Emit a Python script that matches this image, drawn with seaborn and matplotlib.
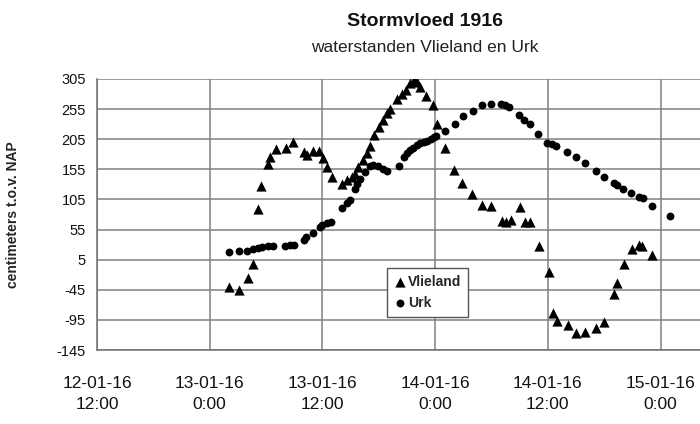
import numpy as np
import pandas as pd
import matplotlib
matplotlib.use("Agg")
import matplotlib.pyplot as plt
import seaborn as sns

# uren na 12-01-1916 12:00 en waterstand in cm t.o.v. NAP
vlieland_uur = [14.1, 15.1, 16.1, 16.6, 17.1, 17.5, 18.2, 18.4, 19.1, 20.1, 20.9,
                22.0, 22.4, 23.0, 23.6, 24.1, 24.5, 25.0, 26.1, 26.6, 27.1, 27.5,
                27.8, 28.3, 28.7, 29.1, 29.5, 30.0, 30.5, 30.9, 31.2, 31.9, 32.5,
                32.9, 33.3, 33.7, 34.1, 34.4, 35.0, 35.8, 36.2, 37.0, 38.0, 38.9,
                39.9, 41.0, 42.0, 43.1, 43.5, 44.1, 45.0, 45.6, 46.1, 47.1, 48.1,
                48.6, 49.0, 50.1, 51.0, 52.0, 53.1, 54.0, 55.0, 55.4, 56.1, 57.0,
                57.7, 58.0, 59.1]
vlieland_cm = [-40, -45, -26, -3, 89, 127, 164, 175, 189, 191, 200,
               184, 179, 185, 186, 174, 159, 143, 131, 138, 142, 148,
               159, 170, 182, 194, 212, 226, 237, 248, 255, 272, 280,
               287, 298, 303, 300, 292, 276, 261, 231, 190, 154, 132,
               114, 96, 94, 69, 68, 71, 92, 68, 68, 28, -15,
               -83, -96, -103, -117, -115, -108, -98, -52, -34, -3, 22,
               30, 28, 13]

urk_uur = [14.0, 15.1, 16.0, 16.6, 17.1, 17.6, 18.2, 18.7, 20.0, 20.5, 21.0,
           22.0, 22.3, 23.0, 23.7, 24.0, 24.5, 24.9, 26.1, 26.6, 26.9, 27.5,
           27.7, 28.0, 28.5, 29.1, 29.4, 29.9, 30.4, 30.9, 32.1, 32.7, 33.0,
           33.3, 33.6, 34.1, 34.4, 34.8, 35.1, 35.6, 35.9, 36.1, 37.0, 38.1,
           39.0, 40.0, 41.0, 41.9, 43.0, 43.4, 43.9, 44.9, 45.5, 46.1, 47.0,
           47.9, 48.4, 48.9, 50.0, 51.0, 52.0, 53.1, 54.0, 55.0, 55.4, 56.0,
           56.9, 57.7, 58.1, 59.1, 61.0]
urk_cm = [17, 19, 20, 23, 25, 26, 28, 28, 27, 29, 30,
          38, 42, 50, 60, 63, 66, 68, 91, 99, 104, 123,
          130, 139, 151, 160, 163, 161, 156, 153, 161, 175, 182,
          187, 191, 195, 198, 201, 202, 206, 209, 211, 219, 231,
          243, 252, 262, 264, 263, 261, 259, 246, 237, 231, 213,
          199, 197, 194, 183, 175, 165, 153, 143, 133, 129, 123,
          116, 109, 107, 94, 78]

x_ticks = [0, 12, 24, 36, 48, 60]
x_labels = ["12-01-16\n12:00", "13-01-16\n0:00", "13-01-16\n12:00",
            "14-01-16\n0:00", "14-01-16\n12:00", "15-01-16\n0:00"]
y_ticks = [305, 255, 205, 155, 105, 55, 5, -45, -95, -145]

df_v = pd.DataFrame({'uur': vlieland_uur, 'cm': vlieland_cm})
df_u = pd.DataFrame({'uur': urk_uur, 'cm': urk_cm})

sns.set_style("white")
plt.rcParams['font.family'] = ['Liberation Sans', 'DejaVu Sans']

fig = plt.figure(figsize=(7, 4.24), dpi=100)
ax = fig.add_axes([0.1386, 0.1745, 0.8614, 0.6392])

sns.scatterplot(data=df_v, x='uur', y='cm', marker='^', s=54, color='black',
                edgecolor='black', linewidth=0, label='Vlieland', ax=ax, zorder=3)
sns.scatterplot(data=df_u, x='uur', y='cm', marker='o', s=32, color='black',
                edgecolor='black', linewidth=0, label='Urk', ax=ax, zorder=3)

ax.set_xlim(0, 64.2)
ax.set_ylim(-145, 305)
ax.set_xticks(x_ticks)
ax.set_xticklabels(x_labels, fontsize=12.5, linespacing=1.45, color='#111111')
ax.set_yticks(y_ticks)
ax.set_yticklabels([str(t) for t in y_ticks], fontsize=10.5, color='#111111')
ax.grid(True, color='#808080', linewidth=1.1)
ax.set_axisbelow(True)
for side in ['top', 'right']:
    ax.spines[side].set_visible(False)
for side in ['left', 'bottom']:
    ax.spines[side].set_color('#707070')
    ax.spines[side].set_linewidth(1.1)
ax.tick_params(axis='x', direction='out', length=5, width=1, color='#707070', pad=14)
ax.tick_params(axis='y', direction='out', length=5, width=1, color='#707070', pad=3)

ax.set_xlabel('')
ax.set_ylabel('centimeters t.o.v. NAP', fontsize=10, fontweight='bold')
ax.yaxis.set_label_coords(-0.128, 0.5)

fig.text(0.607, 0.950, 'Stormvloed 1916', ha='center', va='center',
         fontsize=14, fontweight='bold', color='#111111')
fig.text(0.607, 0.889, 'waterstanden Vlieland en Urk', ha='center', va='center',
         fontsize=12.5, color='#222222')

leg = ax.legend(loc='upper left', bbox_to_anchor=(0.481, 0.3026), frameon=True,
                fancybox=False, framealpha=1, edgecolor='#555555',
                prop={'weight': 'bold', 'size': 10}, handletextpad=0.2,
                handlelength=0.8, borderpad=0.5, labelspacing=0.5,
                borderaxespad=0)
leg.get_frame().set_linewidth(1.0)

fig.savefig('out.png', dpi=100)
